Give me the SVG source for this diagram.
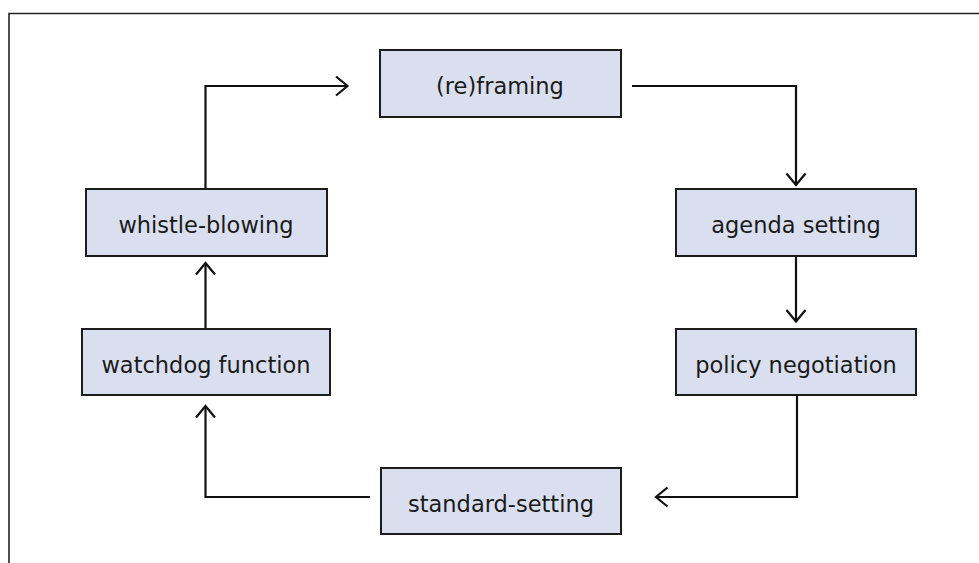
<svg xmlns="http://www.w3.org/2000/svg" width="979" height="563" viewBox="0 0 979 563">
  <style>
    .box { fill: #d9dfee; stroke: #1c1c1c; stroke-width: 2; }
    .label { font-family: "DejaVu Sans", sans-serif; font-size: 22.5px; fill: #1a1a1a; text-anchor: middle; }
    .edge { fill: none; stroke: #111; stroke-width: 2.2; marker-end: url(#chev); }
    .frame { fill: none; stroke: #222; stroke-width: 1.6; }
  </style>
  <defs>
    <marker id="chev" markerUnits="userSpaceOnUse" viewBox="-15 -15 30 30" markerWidth="30" markerHeight="30" refX="0" refY="0" orient="auto" overflow="visible">
      <path d="M -11.5 -9.5 L 0 0 L -11.5 9.5" fill="none" stroke="#111" stroke-width="2.2"/>
    </marker>
  </defs>
  <rect width="979" height="563" fill="#ffffff"/>

  <!-- open frame: top and left edges only -->
  <path class="frame" d="M 9 563 V 13.5 H 979"/>

  <g id="connectors">
    <path class="edge" d="M 205.5 189 V 86 H 347.5"/>
    <path class="edge" d="M 632 86 H 796 V 185"/>
    <path class="edge" d="M 796 256 V 321.5"/>
    <path class="edge" d="M 797 395 V 497 H 656"/>
    <path class="edge" d="M 370 497 H 205.5 V 406"/>
    <path class="edge" d="M 205.5 329 V 263"/>
  </g>

  <g id="reframing">
    <rect class="box" x="380" y="50" width="241" height="67"/>
    <text class="label" x="500" y="94">(re)framing</text>
  </g>
  <g id="agenda-setting">
    <rect class="box" x="676" y="189" width="240" height="67"/>
    <text class="label" x="796" y="233">agenda setting</text>
  </g>
  <g id="policy-negotiation">
    <rect class="box" x="676" y="329" width="240" height="66"/>
    <text class="label" x="796" y="372.5">policy negotiation</text>
  </g>
  <g id="standard-setting">
    <rect class="box" x="381" y="468" width="240" height="66"/>
    <text class="label" x="501" y="511.5">standard-setting</text>
  </g>
  <g id="watchdog-function">
    <rect class="box" x="82" y="329" width="248" height="66"/>
    <text class="label" x="206" y="372.5">watchdog function</text>
  </g>
  <g id="whistle-blowing">
    <rect class="box" x="86" y="189" width="241" height="67"/>
    <text class="label" x="206" y="233">whistle-blowing</text>
  </g>
</svg>
